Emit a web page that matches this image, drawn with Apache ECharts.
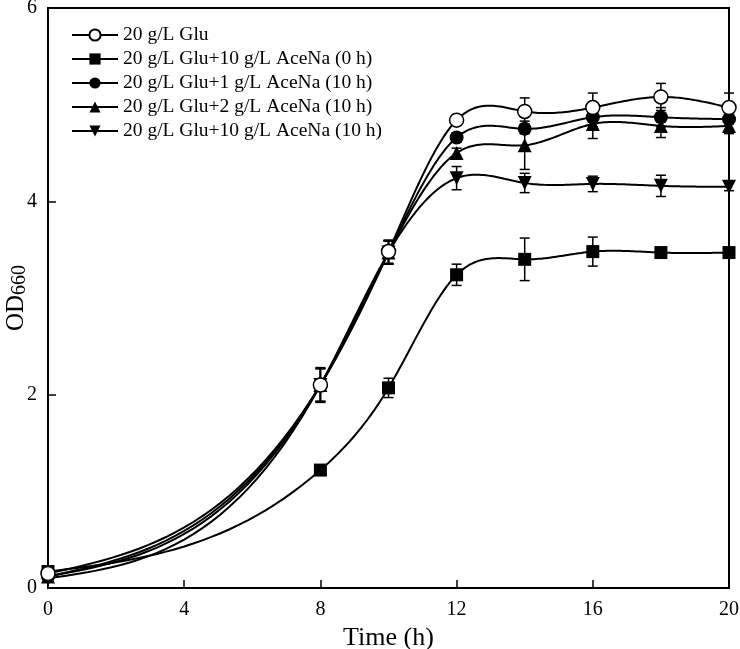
<!DOCTYPE html>
<html>
<head>
<meta charset="utf-8">
<script src="https://cdn.jsdelivr.net/npm/echarts@6/dist/echarts.min.js"></script>
<style>html,body{margin:0;padding:0;background:#fff}#c{width:740px;height:649px}</style>
</head>
<body>
<div id="c"></div>
<script>
var time = [0, 8, 10, 12, 14, 16, 18, 20];
var names = ['20 g/L Glu', '20 g/L Glu+10 g/L AceNa (0 h)', '20 g/L Glu+1 g/L AceNa (10 h)', '20 g/L Glu+2 g/L AceNa (10 h)', '20 g/L Glu+10 g/L AceNa (10 h)'];
var glu      = [0.15, 2.10, 3.48, 4.84, 4.93, 4.97, 5.08, 4.97];
var gluErr   = [0.03, 0.18, 0.12, 0.05, 0.14, 0.15, 0.14, 0.15];
var ace0h    = [0.17, 1.22, 2.07, 3.24, 3.40, 3.48, 3.47, 3.47];
var ace0hErr = [0.03, 0.03, 0.10, 0.11, 0.22, 0.15, 0.02, 0.02];
var ace1     = [0.12, 2.10, 3.47, 4.66, 4.75, 4.87, 4.87, 4.85];
var ace1Err  = [0.03, 0.17, 0.12, 0.05, 0.05, 0.10, 0.10, 0.05];
var ace2     = [0.12, 2.10, 3.47, 4.50, 4.58, 4.80, 4.78, 4.78];
var ace2Err  = [0.03, 0.17, 0.12, 0.05, 0.25, 0.15, 0.12, 0.08];
var ace10    = [0.10, 2.10, 3.47, 4.24, 4.19, 4.18, 4.16, 4.15];
var ace10Err = [0.03, 0.17, 0.12, 0.12, 0.10, 0.08, 0.11, 0.04];

var values = [glu, ace0h, ace1, ace2, ace10];
var errs = [gluErr, ace0hErr, ace1Err, ace2Err, ace10Err];
var symbols = ['circle', 'rect', 'circle', 'triangle', 'path://M0,0 L10,0 L5,9 Z'];
var fills = ['#fff', '#000', '#000', '#000', '#000'];
var sizes = [14, 13, 14, 14, 14];
var font = '"Liberation Serif","Times New Roman",serif';

// natural cubic spline second derivatives (used only to draw the connecting curve)
function splineM(xs, ys) {
  var n = xs.length, a = [], b = [], c = [], d = [], M = new Array(n).fill(0);
  for (var i = 1; i < n - 1; i++) {
    var h0 = xs[i] - xs[i - 1], h1 = xs[i + 1] - xs[i];
    a.push(h0); b.push(2 * (h0 + h1)); c.push(h1);
    d.push(6 * ((ys[i + 1] - ys[i]) / h1 - (ys[i] - ys[i - 1]) / h0));
  }
  var m = b.length;
  for (var k = 1; k < m; k++) {
    var w = a[k] / b[k - 1];
    b[k] -= w * c[k - 1]; d[k] -= w * d[k - 1];
  }
  var sol = new Array(m);
  sol[m - 1] = d[m - 1] / b[m - 1];
  for (var k2 = m - 2; k2 >= 0; k2--) sol[k2] = (d[k2] - c[k2] * sol[k2 + 1]) / b[k2];
  for (var j = 0; j < m; j++) M[j + 1] = sol[j];
  return M;
}
function splineAt(xs, ys, M, i, x) {
  var h = xs[i + 1] - xs[i], A = (xs[i + 1] - x) / h, B = (x - xs[i]) / h;
  return A * ys[i] + B * ys[i + 1] + ((A * A * A - A) * M[i] + (B * B * B - B) * M[i + 1]) * h * h / 6;
}

var series = [];
values.forEach(function (v, i) {
  var eb = time.map(function (t, k) { return [t, v[k] - errs[i][k], v[k] + errs[i][k]]; });
  series.push({
    type: 'custom', name: names[i] + ' err', silent: true, z: 1,
    data: eb,
    renderItem: function (params, api) {
      var x = api.value(0);
      var lo = api.coord([x, api.value(1)]);
      var hi = api.coord([x, api.value(2)]);
      var w = 5;
      var st = { stroke: '#000', lineWidth: 1.5 };
      return { type: 'group', children: [
        { type: 'line', shape: { x1: lo[0], y1: lo[1], x2: hi[0], y2: hi[1] }, style: st },
        { type: 'line', shape: { x1: lo[0] - w, y1: lo[1], x2: lo[0] + w, y2: lo[1] }, style: st },
        { type: 'line', shape: { x1: hi[0] - w, y1: hi[1], x2: hi[0] + w, y2: hi[1] }, style: st }
      ]};
    }
  });
  var M = splineM(time, v);
  series.push({
    type: 'custom', name: names[i] + ' curve', silent: true, z: 2,
    data: time.map(function (t, k) { return [t, v[k], k]; }),
    renderItem: function (params, api) {
      var k = api.value(2);
      if (k >= time.length - 1) return null;
      var pts = [];
      var N = 30;
      for (var s = 0; s <= N; s++) {
        var x = time[k] + (time[k + 1] - time[k]) * s / N;
        pts.push(api.coord([x, splineAt(time, v, M, k, x)]));
      }
      return { type: 'polyline', shape: { points: pts }, style: { stroke: '#000', lineWidth: 2, fill: null } };
    }
  });
});
values.forEach(function (v, i) {
  series.push({
    type: 'line', name: names[i], z: 3 + (i === 0 ? 5 : 0),
    data: time.map(function (t, k) { return [t, v[k]]; }),
    symbol: symbols[i], symbolSize: sizes[i], showAllSymbol: true,
    lineStyle: { color: '#000', width: 2, opacity: 0 },
    itemStyle: { color: fills[i], borderColor: '#000', borderWidth: i === 0 ? 1.5 : 0 }
  });
});

var chart = echarts.init(document.getElementById('c'), null, { renderer: 'canvas' });
chart.setOption({
  animation: false,
  backgroundColor: '#fff',
  grid: { left: 48, right: 11, top: 8, bottom: 61, show: true, borderColor: '#000', borderWidth: 2, containLabel: false, outerBoundsMode: 'none' },
  legend: {
    data: names, orient: 'vertical', left: 66, top: 20, itemWidth: 46, itemHeight: 14, itemGap: 4,
    lineStyle: { color: '#000', width: 2, opacity: 1 },
    textStyle: { fontFamily: font, fontSize: 19.5, color: '#000', lineHeight: 20 }
  },
  xAxis: {
    type: 'value', min: 0, max: 20, interval: 4,
    name: 'Time (h)', nameLocation: 'middle', nameGap: 35,
    nameTextStyle: { fontFamily: font, fontSize: 26, color: '#000' },
    axisLine: { lineStyle: { color: '#000', width: 2 } },
    axisTick: { inside: true, length: 8, lineStyle: { color: '#000', width: 1.5 } },
    axisLabel: { fontFamily: font, fontSize: 20, color: '#000', margin: 12 },
    splitLine: { show: false }
  },
  yAxis: {
    type: 'value', min: 0, max: 6, interval: 2,
    name: '{a|OD}{b|660}', nameLocation: 'middle', nameGap: 18, nameRotate: 90, nameMoveOverlap: false,
    nameTextStyle: { fontFamily: font, color: '#000', rich: {
      a: { fontFamily: font, fontSize: 25, color: '#000' },
      b: { fontFamily: font, fontSize: 20, color: '#000', verticalAlign: 'bottom', padding: [8, 0, 0, 0] }
    } },
    axisLine: { lineStyle: { color: '#000', width: 2 } },
    axisTick: { inside: true, length: 8, lineStyle: { color: '#000', width: 1.5 } },
    axisLabel: { fontFamily: font, fontSize: 20, color: '#000', margin: 11 },
    splitLine: { show: false }
  },
  series: series
});
</script>
</body>
</html>
